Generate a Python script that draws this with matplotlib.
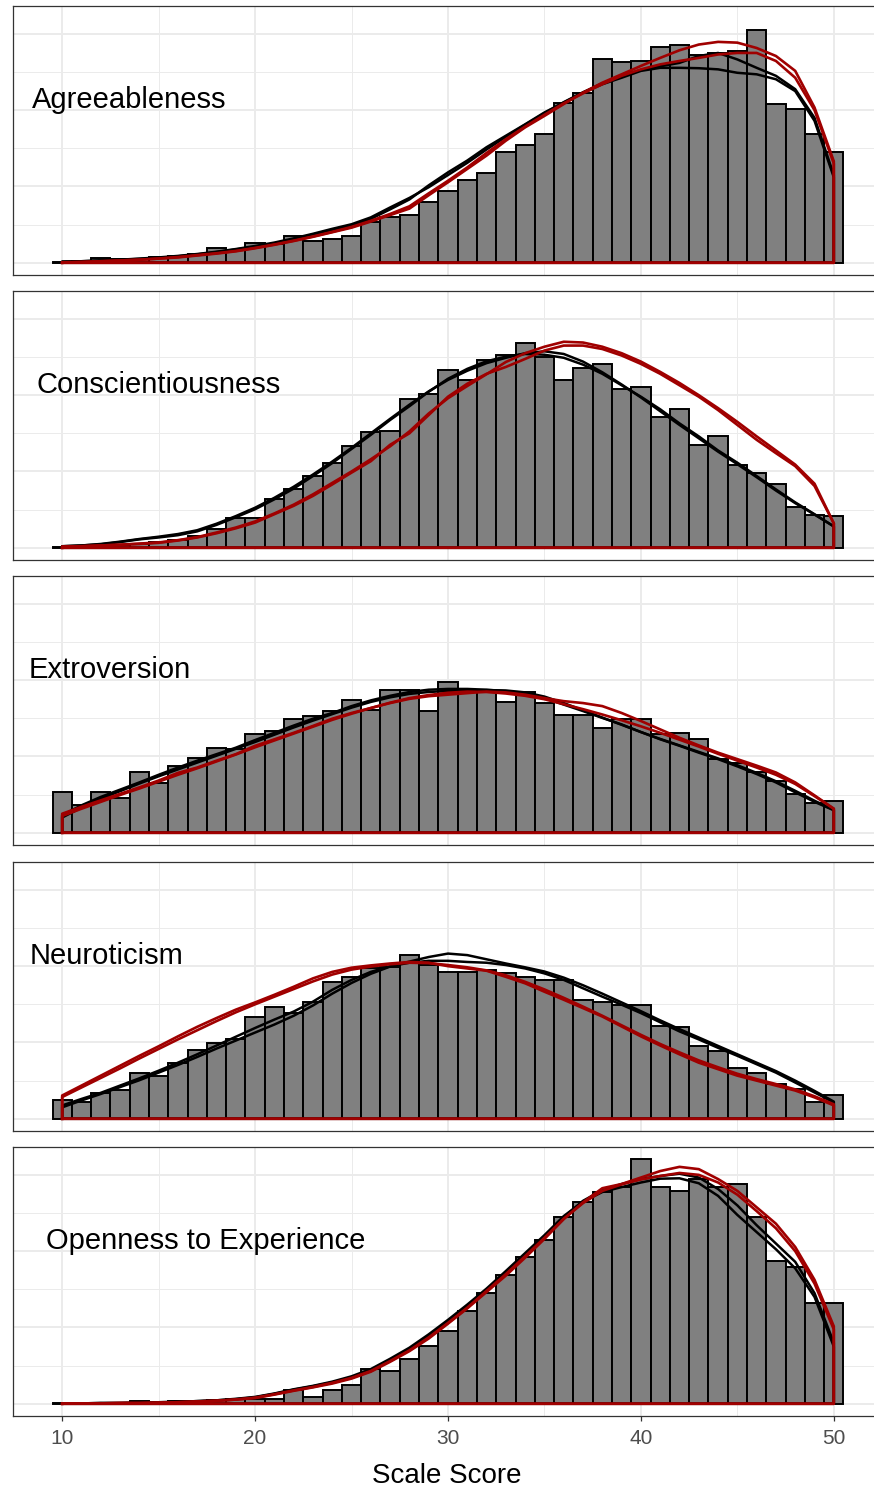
import numpy as np
import matplotlib.pyplot as plt

plt.rcParams["font.family"] = ["Liberation Sans", "DejaVu Sans"]

scores = np.arange(10, 51)
traits = ["Agreeableness", "Conscientiousness", "Extroversion",
          "Neuroticism", "Openness to Experience"]

# histogram densities, one bar per scale score (10..50)
agree_hist = [0.0003, 0.0004, 0.0012, 0.0010, 0.0011, 0.0015, 0.0017, 0.0024, 0.0038, 0.0033,
              0.0053, 0.0048, 0.0069, 0.0056, 0.0062, 0.0069, 0.0108, 0.0120, 0.0125, 0.0159,
              0.0188, 0.0216, 0.0236, 0.0290, 0.0310, 0.0337, 0.0420, 0.0444, 0.0535, 0.0527,
              0.0529, 0.0565, 0.0570, 0.0545, 0.0550, 0.0555, 0.0611, 0.0417, 0.0404, 0.0337,
              0.0291]
consc_hist = [0.0003, 0.0003, 0.0005, 0.0007, 0.0010, 0.0014, 0.0020, 0.0030, 0.0050, 0.0077,
              0.0077, 0.0127, 0.0155, 0.0188, 0.0221, 0.0268, 0.0303, 0.0307, 0.0391, 0.0403,
              0.0467, 0.0440, 0.0493, 0.0504, 0.0537, 0.0500, 0.0439, 0.0472, 0.0482, 0.0417,
              0.0422, 0.0342, 0.0364, 0.0270, 0.0294, 0.0218, 0.0196, 0.0166, 0.0108, 0.0085,
              0.0082]
extro_hist = [0.0108, 0.0073, 0.0106, 0.0091, 0.0158, 0.0131, 0.0176, 0.0195, 0.0223, 0.0219,
              0.0258, 0.0268, 0.0299, 0.0306, 0.0319, 0.0347, 0.0321, 0.0375, 0.0375, 0.0319,
              0.0395, 0.0375, 0.0373, 0.0343, 0.0370, 0.0340, 0.0310, 0.0308, 0.0274, 0.0297,
              0.0297, 0.0258, 0.0262, 0.0245, 0.0193, 0.0184, 0.0158, 0.0137, 0.0102, 0.0079,
              0.0083]
neuro_hist = [0.0049, 0.0045, 0.0068, 0.0076, 0.0121, 0.0111, 0.0147, 0.0179, 0.0199, 0.0210,
              0.0268, 0.0294, 0.0277, 0.0307, 0.0359, 0.0372, 0.0394, 0.0398, 0.0429, 0.0403,
              0.0385, 0.0385, 0.0390, 0.0381, 0.0372, 0.0364, 0.0364, 0.0312, 0.0307, 0.0299,
              0.0299, 0.0242, 0.0241, 0.0190, 0.0177, 0.0134, 0.0121, 0.0091, 0.0078, 0.0043,
              0.0063]
open_hist = [0.0002, 0.0001, 0.0001, 0.0002, 0.0006, 0.0005, 0.0008, 0.0008, 0.0010, 0.0012,
             0.0013, 0.0013, 0.0036, 0.0017, 0.0035, 0.0048, 0.0091, 0.0087, 0.0117, 0.0152,
             0.0190, 0.0242, 0.0290, 0.0338, 0.0385, 0.0429, 0.0489, 0.0528, 0.0554, 0.0567,
             0.0641, 0.0567, 0.0558, 0.0589, 0.0567, 0.0576, 0.0490, 0.0375, 0.0359, 0.0264,
             0.0264]

# density curves read at each score: observed (black) and model (red)
agree_obs_1 = [0.0003, 0.0004, 0.0006, 0.0008, 0.0010, 0.0013, 0.0017, 0.0022, 0.0028, 0.0035,
               0.0042, 0.0051, 0.0062, 0.0074, 0.0086, 0.0098, 0.0115, 0.0140, 0.0166, 0.0203,
               0.0237, 0.0268, 0.0303, 0.0333, 0.0363, 0.0394, 0.0420, 0.0446, 0.0468, 0.0485,
               0.0503, 0.0511, 0.0511, 0.0510, 0.0507, 0.0498, 0.0494, 0.0481, 0.0450, 0.0372,
               0.0224]
agree_obs_2 = [0.0003, 0.0004, 0.0006, 0.0008, 0.0011, 0.0014, 0.0018, 0.0023, 0.0029, 0.0036,
               0.0044, 0.0053, 0.0064, 0.0076, 0.0089, 0.0101, 0.0119, 0.0145, 0.0170, 0.0198,
               0.0230, 0.0262, 0.0297, 0.0330, 0.0362, 0.0392, 0.0421, 0.0447, 0.0470, 0.0489,
               0.0505, 0.0515, 0.0524, 0.0542, 0.0550, 0.0533, 0.0511, 0.0490, 0.0455, 0.0380,
               0.0230]
agree_sim_1 = [0.0001, 0.0002, 0.0004, 0.0006, 0.0008, 0.0011, 0.0014, 0.0019, 0.0024, 0.0030,
               0.0038, 0.0047, 0.0057, 0.0068, 0.0080, 0.0092, 0.0108, 0.0125, 0.0142, 0.0177,
               0.0211, 0.0246, 0.0281, 0.0320, 0.0355, 0.0385, 0.0416, 0.0446, 0.0472, 0.0494,
               0.0516, 0.0537, 0.0557, 0.0572, 0.0579, 0.0577, 0.0563, 0.0542, 0.0503, 0.0407,
               0.0266]
agree_sim_2 = [0.0001, 0.0002, 0.0004, 0.0006, 0.0008, 0.0011, 0.0015, 0.0020, 0.0025, 0.0031,
               0.0039, 0.0048, 0.0058, 0.0069, 0.0081, 0.0094, 0.0110, 0.0128, 0.0148, 0.0182,
               0.0215, 0.0250, 0.0288, 0.0324, 0.0357, 0.0388, 0.0418, 0.0444, 0.0468, 0.0490,
               0.0507, 0.0520, 0.0529, 0.0537, 0.0546, 0.0550, 0.0550, 0.0529, 0.0485, 0.0400,
               0.0260]

consc_obs_1 = [0.0004, 0.0006, 0.0009, 0.0015, 0.0022, 0.0027, 0.0033, 0.0043, 0.0060, 0.0080,
               0.0101, 0.0127, 0.0155, 0.0188, 0.0222, 0.0259, 0.0296, 0.0335, 0.0371, 0.0409,
               0.0443, 0.0469, 0.0489, 0.0501, 0.0508, 0.0506, 0.0498, 0.0480, 0.0456, 0.0426,
               0.0396, 0.0363, 0.0326, 0.0292, 0.0255, 0.0223, 0.0188, 0.0153, 0.0119, 0.0088,
               0.0056]
consc_obs_2 = [0.0004, 0.0006, 0.0010, 0.0016, 0.0023, 0.0029, 0.0036, 0.0046, 0.0063, 0.0083,
               0.0105, 0.0131, 0.0160, 0.0192, 0.0226, 0.0262, 0.0300, 0.0338, 0.0375, 0.0410,
               0.0440, 0.0464, 0.0484, 0.0498, 0.0510, 0.0515, 0.0508, 0.0488, 0.0460, 0.0428,
               0.0394, 0.0358, 0.0322, 0.0287, 0.0252, 0.0219, 0.0185, 0.0150, 0.0117, 0.0087,
               0.0056]
consc_sim_1 = [0.0003, 0.0004, 0.0006, 0.0008, 0.0010, 0.0013, 0.0019, 0.0027, 0.0038, 0.0051,
               0.0066, 0.0088, 0.0110, 0.0136, 0.0166, 0.0197, 0.0227, 0.0270, 0.0300, 0.0348,
               0.0396, 0.0430, 0.0456, 0.0474, 0.0495, 0.0517, 0.0530, 0.0530, 0.0521, 0.0504,
               0.0482, 0.0456, 0.0426, 0.0396, 0.0361, 0.0322, 0.0283, 0.0248, 0.0214, 0.0162,
               0.0064]
consc_sim_2 = [0.0003, 0.0004, 0.0006, 0.0008, 0.0011, 0.0014, 0.0020, 0.0028, 0.0040, 0.0053,
               0.0069, 0.0090, 0.0113, 0.0140, 0.0170, 0.0200, 0.0232, 0.0266, 0.0305, 0.0352,
               0.0392, 0.0424, 0.0455, 0.0487, 0.0510, 0.0527, 0.0540, 0.0538, 0.0527, 0.0510,
               0.0488, 0.0461, 0.0432, 0.0400, 0.0366, 0.0330, 0.0292, 0.0255, 0.0218, 0.0168,
               0.0064]

extro_obs_1 = [0.0046, 0.0072, 0.0094, 0.0113, 0.0132, 0.0152, 0.0171, 0.0189, 0.0206, 0.0223,
               0.0243, 0.0262, 0.0281, 0.0299, 0.0314, 0.0332, 0.0347, 0.0359, 0.0369, 0.0375,
               0.0377, 0.0377, 0.0375, 0.0371, 0.0364, 0.0353, 0.0336, 0.0319, 0.0301, 0.0284,
               0.0264, 0.0245, 0.0228, 0.0210, 0.0193, 0.0174, 0.0154, 0.0132, 0.0106, 0.0081,
               0.0059]
extro_obs_2 = [0.0040, 0.0066, 0.0089, 0.0109, 0.0129, 0.0148, 0.0166, 0.0184, 0.0202, 0.0220,
               0.0238, 0.0257, 0.0276, 0.0294, 0.0311, 0.0328, 0.0343, 0.0355, 0.0364, 0.0369,
               0.0372, 0.0373, 0.0374, 0.0373, 0.0368, 0.0357, 0.0340, 0.0321, 0.0302, 0.0283,
               0.0264, 0.0246, 0.0229, 0.0212, 0.0195, 0.0177, 0.0157, 0.0135, 0.0110, 0.0084,
               0.0060]
extro_sim_1 = [0.0050, 0.0068, 0.0085, 0.0102, 0.0119, 0.0137, 0.0157, 0.0171, 0.0189, 0.0206,
               0.0228, 0.0245, 0.0262, 0.0280, 0.0299, 0.0314, 0.0327, 0.0340, 0.0351, 0.0358,
               0.0362, 0.0366, 0.0370, 0.0368, 0.0362, 0.0353, 0.0345, 0.0340, 0.0332, 0.0314,
               0.0293, 0.0271, 0.0249, 0.0229, 0.0210, 0.0193, 0.0176, 0.0158, 0.0132, 0.0098,
               0.0063]
extro_sim_2 = [0.0044, 0.0063, 0.0081, 0.0099, 0.0116, 0.0134, 0.0152, 0.0169, 0.0187, 0.0205,
               0.0224, 0.0242, 0.0260, 0.0278, 0.0296, 0.0312, 0.0327, 0.0341, 0.0353, 0.0361,
               0.0367, 0.0370, 0.0369, 0.0365, 0.0359, 0.0350, 0.0337, 0.0324, 0.0310, 0.0295,
               0.0279, 0.0262, 0.0244, 0.0226, 0.0207, 0.0189, 0.0171, 0.0152, 0.0128, 0.0096,
               0.0063]

neuro_obs_1 = [0.0035, 0.0052, 0.0068, 0.0087, 0.0106, 0.0126, 0.0147, 0.0169, 0.0192, 0.0215,
               0.0238, 0.0260, 0.0281, 0.0307, 0.0338, 0.0364, 0.0385, 0.0400, 0.0409, 0.0414,
               0.0414, 0.0411, 0.0409, 0.0403, 0.0394, 0.0381, 0.0364, 0.0342, 0.0320, 0.0299,
               0.0277, 0.0253, 0.0229, 0.0208, 0.0186, 0.0165, 0.0143, 0.0121, 0.0095, 0.0069,
               0.0043]
neuro_obs_2 = [0.0030, 0.0048, 0.0065, 0.0083, 0.0101, 0.0121, 0.0141, 0.0162, 0.0184, 0.0205,
               0.0226, 0.0247, 0.0270, 0.0297, 0.0328, 0.0356, 0.0380, 0.0399, 0.0412, 0.0424,
               0.0433, 0.0429, 0.0418, 0.0407, 0.0397, 0.0386, 0.0370, 0.0350, 0.0328, 0.0305,
               0.0282, 0.0258, 0.0235, 0.0213, 0.0191, 0.0169, 0.0147, 0.0125, 0.0100, 0.0073,
               0.0045]
neuro_sim_1 = [0.0061, 0.0087, 0.0113, 0.0139, 0.0165, 0.0190, 0.0216, 0.0241, 0.0264, 0.0286,
               0.0305, 0.0325, 0.0346, 0.0368, 0.0385, 0.0396, 0.0402, 0.0407, 0.0411, 0.0409,
               0.0400, 0.0394, 0.0388, 0.0372, 0.0355, 0.0333, 0.0312, 0.0290, 0.0268, 0.0242,
               0.0216, 0.0192, 0.0169, 0.0147, 0.0130, 0.0113, 0.0100, 0.0087, 0.0074, 0.0056,
               0.0035]
neuro_sim_2 = [0.0057, 0.0082, 0.0107, 0.0132, 0.0158, 0.0183, 0.0208, 0.0232, 0.0256, 0.0279,
               0.0300, 0.0320, 0.0340, 0.0360, 0.0378, 0.0391, 0.0399, 0.0405, 0.0409, 0.0408,
               0.0403, 0.0397, 0.0389, 0.0376, 0.0359, 0.0339, 0.0317, 0.0294, 0.0270, 0.0245,
               0.0220, 0.0196, 0.0174, 0.0153, 0.0135, 0.0118, 0.0104, 0.0091, 0.0077, 0.0059,
               0.0038]

open_obs_1 = [0.0001, 0.0001, 0.0002, 0.0002, 0.0003, 0.0004, 0.0005, 0.0007, 0.0009, 0.0012,
              0.0017, 0.0026, 0.0037, 0.0046, 0.0056, 0.0069, 0.0087, 0.0115, 0.0143, 0.0177,
              0.0216, 0.0255, 0.0299, 0.0342, 0.0390, 0.0437, 0.0489, 0.0532, 0.0560, 0.0576,
              0.0589, 0.0597, 0.0603, 0.0593, 0.0563, 0.0520, 0.0468, 0.0420, 0.0372, 0.0290,
              0.0160]
open_obs_2 = [0.0001, 0.0001, 0.0002, 0.0002, 0.0003, 0.0004, 0.0005, 0.0007, 0.0009, 0.0013,
              0.0018, 0.0027, 0.0038, 0.0047, 0.0058, 0.0072, 0.0091, 0.0118, 0.0147, 0.0182,
              0.0220, 0.0260, 0.0302, 0.0348, 0.0395, 0.0442, 0.0492, 0.0530, 0.0555, 0.0568,
              0.0580, 0.0590, 0.0591, 0.0578, 0.0545, 0.0495, 0.0450, 0.0405, 0.0355, 0.0280,
              0.0150]
open_sim_1 = [0.0001, 0.0001, 0.0001, 0.0002, 0.0002, 0.0003, 0.0004, 0.0006, 0.0008, 0.0011,
              0.0015, 0.0024, 0.0034, 0.0043, 0.0053, 0.0066, 0.0084, 0.0110, 0.0138, 0.0171,
              0.0210, 0.0250, 0.0293, 0.0336, 0.0383, 0.0432, 0.0484, 0.0528, 0.0565, 0.0576,
              0.0593, 0.0610, 0.0621, 0.0615, 0.0589, 0.0558, 0.0515, 0.0472, 0.0411, 0.0325,
              0.0203]
open_sim_2 = [0.0001, 0.0001, 0.0001, 0.0002, 0.0002, 0.0003, 0.0004, 0.0006, 0.0008, 0.0011,
              0.0016, 0.0025, 0.0035, 0.0044, 0.0055, 0.0068, 0.0086, 0.0112, 0.0140, 0.0174,
              0.0212, 0.0252, 0.0296, 0.0340, 0.0387, 0.0435, 0.0485, 0.0526, 0.0558, 0.0575,
              0.0588, 0.0597, 0.0605, 0.0600, 0.0580, 0.0548, 0.0505, 0.0460, 0.0400, 0.0315,
              0.0195]

hists = [agree_hist, consc_hist, extro_hist, neuro_hist, open_hist]
obs_curves = [[agree_obs_1, agree_obs_2], [consc_obs_1, consc_obs_2], [extro_obs_1, extro_obs_2],
              [neuro_obs_1, neuro_obs_2], [open_obs_1, open_obs_2]]
sim_curves = [[agree_sim_1, agree_sim_2], [consc_sim_1, consc_sim_2], [extro_sim_1, extro_sim_2],
              [neuro_sim_1, neuro_sim_2], [open_sim_1, open_sim_2]]

# layout (pixels of the 874x1489 output)
W, H = 874, 1489
panel_tops = [6, 291, 576, 862, 1147]
panel_h = 269
left_px, right_px = 13, 883
label_x = [8.43, 8.69, 8.28, 8.30, 9.14]
red = "#A00000"

fig = plt.figure(figsize=(W / 100, H / 100), dpi=100)

ymax = max(max(h) for h in hists)
n = len(traits)
for i in range(n):
    ax = fig.add_axes([left_px / W, 1 - (panel_tops[i] + panel_h) / H,
                       (right_px - left_px) / W, panel_h / H])
    ax.bar(scores, hists[i], width=1, color="#808080", edgecolor="black",
           linewidth=1.4, zorder=2)

    # closed outlines, like geom_density with no fill
    xs = np.r_[10, scores, 50, 10]
    for c in obs_curves[i]:
        ax.plot(xs, np.r_[0, c, 0, 0], color="black", lw=1.8,
                solid_joinstyle="round", zorder=3)
    for c in sim_curves[i]:
        ax.plot(xs, np.r_[0, c, 0, 0], color=red, lw=1.9,
                solid_joinstyle="round", zorder=4)

    ax.text(label_x[i], 0.0405, traits[i], fontsize=21, ha="left", va="baseline", zorder=5)

    ax.set_xlim(9.5 - 0.05 * 41, 50.5 + 0.05 * 41)
    ax.set_ylim(-0.05 * ymax, 1.05 * ymax)
    ax.set_xticks([10, 20, 30, 40, 50])
    ax.set_xticks([15, 25, 35, 45], minor=True)
    ax.set_yticks([0, 0.02, 0.04, 0.06])
    ax.set_yticks([0.01, 0.03, 0.05], minor=True)
    ax.set_axisbelow(True)
    ax.grid(which="major", color="#EBEBEB", lw=1.4)
    ax.grid(which="minor", color="#EBEBEB", lw=0.7)
    ax.tick_params(which="both", left=False, labelleft=False)
    ax.tick_params(which="minor", length=0)
    for s in ax.spines.values():
        s.set_color("#333333")
        s.set_linewidth(0.9)

    if i < n - 1:
        ax.tick_params(which="major", bottom=False, labelbottom=False)
    else:
        ax.tick_params(which="major", length=3.5, width=0.9, color="#333333",
                       labelcolor="#4D4D4D", labelsize=15, pad=6)

fig.text(447 / W, 1 - 1483 / H, "Scale Score", ha="center", va="baseline", fontsize=20)

fig.savefig("out.png", dpi=100)
